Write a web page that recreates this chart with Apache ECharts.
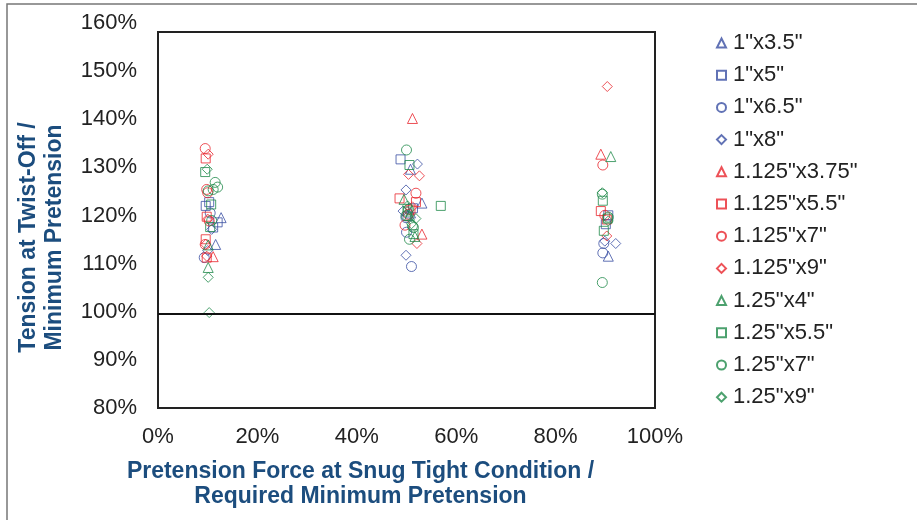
<!DOCTYPE html>
<html>
<head>
<meta charset="utf-8">
<script src="https://cdn.jsdelivr.net/npm/echarts@6/dist/echarts.min.js"></script>
<style>html,body{margin:0;padding:0;background:#fff;}#c{width:917px;height:520px;}</style>
</head>
<body>
<div id="c"></div>
<script>
// Series names (legend order)
const seriesNames = ['1"x3.5"', '1"x5"', '1"x6.5"', '1"x8"', '1.125"x3.75"', '1.125"x5.5"', '1.125"x7"', '1.125"x9"', '1.25"x4"', '1.25"x5.5"', '1.25"x7"', '1.25"x9"'];
// x: pretension at snug tight / required min (%), y: tension at twist-off / min pretension (%)
const d_1x35 = [[12.7,120.5],[11.6,114.8],[50.8,130.8],[53.1,123.6],[50.8,121.5],[90.6,112.3]];
const d_1x5 = [[9.6,123.0],[10.3,123.8],[12.0,119.5],[11.1,118.4],[48.8,132.9],[51.3,122.5],[50.2,120.8],[90.6,121.0],[90.1,119.1]];
const d_1x65 = [[9.3,112.0],[10.5,121.5],[50.0,117.4],[51.0,110.1],[49.9,120.5],[89.7,115.0],[89.5,113.0]];
const d_1x8 = [[10.8,118.0],[10.0,113.5],[52.2,131.9],[49.9,126.4],[49.9,112.5],[49.3,121.9],[92.1,115.0],[89.9,115.5]];
const d_1125x375 = [[11.1,112.2],[51.2,141.6],[53.1,117.0],[89.1,134.0]];
const d_1125x55 = [[9.6,133.1],[9.8,120.7],[9.6,115.9],[9.8,112.0],[48.6,124.6],[51.9,123.8],[50.8,122.2],[89.1,121.9],[90.3,120.1]];
const d_1125x7 = [[9.5,135.2],[9.8,126.5],[10.0,125.8],[10.3,119.8],[9.5,114.8],[51.9,125.7],[49.7,118.9],[50.4,121.2],[89.5,131.7],[89.9,121.0]];
const d_1125x9 = [[10.1,134.0],[9.6,114.8],[9.8,112.3],[10.0,120.2],[50.4,129.7],[52.6,129.4],[52.1,115.0],[51.2,122.8],[90.4,148.4],[90.3,116.6]];
const d_125x4 = [[10.1,114.7],[10.1,109.9],[49.5,124.4],[50.6,121.0],[51.7,116.5],[91.1,133.5]];
const d_125x55 = [[9.5,130.2],[10.7,123.3],[10.5,118.5],[50.6,131.7],[56.9,123.0],[50.2,121.8],[51.4,117.0],[89.5,124.1],[89.7,117.7],[90.5,120.3]];
const d_125x7 = [[11.5,128.0],[12.0,127.0],[11.1,126.5],[10.1,126.2],[10.8,119.9],[50.0,134.9],[51.4,118.4],[50.6,115.9],[49.9,120.9],[50.4,122.3],[51.2,118.7],[89.4,125.5],[89.4,106.7],[90.6,120.6]];
const d_125x9 = [[9.9,130.8],[10.1,107.8],[10.3,100.3],[51.9,120.3],[50.2,123.0],[51.0,119.2],[89.4,125.8],[90.6,119.8]];
const seriesData = [d_1x35, d_1x5, d_1x65, d_1x8, d_1125x375, d_1125x55, d_1125x7, d_1125x9, d_125x4, d_125x55, d_125x7, d_125x9];
// Axis ticks
const xTicks = [0, 20, 40, 60, 80, 100];
const yTicks = [80, 90, 100, 110, 120, 130, 140, 150, 160];
const referenceLine = 100;

const BLUE = '#3a4fa2', RED = '#e8262d', GREEN = '#1f8a4a';
const colors = [BLUE, BLUE, BLUE, BLUE, RED, RED, RED, RED, GREEN, GREEN, GREEN, GREEN];
const shapes = ['triangle', 'rect', 'circle', 'diamond'];
const sizes = {triangle: 10, rect: 9, circle: 10, diamond: 10};
const FONT = '"Liberation Sans", Arial, sans-serif';
const TITLE_COLOR = '#1c4d7e';

const series = seriesNames.map((name, i) => {
  const shape = shapes[i % 4];
  const s = {
    name: name,
    type: 'scatter',
    symbol: shape,
    symbolSize: sizes[shape],
    data: seriesData[i],
    itemStyle: {color: 'rgba(255,255,255,0)', borderColor: colors[i], borderWidth: 1},
    emphasis: {disabled: true}
  };
  if (i === 0) {
    s.markLine = {
      silent: true, symbol: 'none', animation: false,
      label: {show: false},
      lineStyle: {color: '#111', width: 2, type: 'solid'},
      data: [{yAxis: referenceLine}]
    };
  }
  return s;
});

const yMin = yTicks[0], yMax = yTicks[yTicks.length - 1];
const chart = echarts.init(document.getElementById('c'), null, {renderer: 'canvas'});
chart.setOption({
  animation: false,
  backgroundColor: '#fff',
  textStyle: {fontFamily: FONT},
  grid: [
    {left: 158, top: 32, right: 262, bottom: 112, show: true, borderColor: '#222', borderWidth: 2, backgroundColor: 'transparent'},
    // label-only grid: the source picture spaces its y tick labels slightly wider than the plot box
    {left: 158, top: 23, right: 262, bottom: 112, show: false}
  ],
  xAxis: [
    {
      type: 'value', min: xTicks[0], max: xTicks[xTicks.length - 1], interval: 20,
      axisLine: {show: false}, axisTick: {show: false}, splitLine: {show: false},
      axisLabel: {formatter: v => v + '%', fontSize: 22, color: '#222', margin: 18, fontFamily: FONT}
    },
    {gridIndex: 1, type: 'value', min: 0, max: 100, show: false}
  ],
  yAxis: [
    {
      type: 'value', min: yMin, max: yMax, interval: 10,
      axisLine: {show: false}, axisTick: {show: false}, splitLine: {show: false},
      axisLabel: {show: false}
    },
    {
      gridIndex: 1, type: 'value', min: yMin, max: yMax, interval: 10,
      axisLine: {show: false}, axisTick: {show: false}, splitLine: {show: false},
      axisLabel: {formatter: v => v + '%', fontSize: 22, color: '#222', margin: 21, fontFamily: FONT}
    }
  ],
  legend: {
    orient: 'vertical', left: 711, top: 27, itemGap: 10.2, itemWidth: 9, itemHeight: 9,
    selectedMode: false,
    textStyle: {fontSize: 22, color: '#222', fontFamily: FONT, padding: [0, 0, 0, 2]},
    data: seriesNames
  },
  graphic: [
    {type: 'polyline', silent: true, shape: {points: [[7, 520], [7, 4], [917, 4]]}, style: {stroke: '#777', lineWidth: 1.5, fill: null}},
    {type: 'text', silent: true, x: 29, y: 237.5, rotation: Math.PI / 2,
      style: {text: 'Tension at Twist-Off /', font: 'bold 23px ' + FONT, fill: TITLE_COLOR, textAlign: 'center', textVerticalAlign: 'middle'}},
    {type: 'text', silent: true, x: 55, y: 237.5, rotation: Math.PI / 2,
      style: {text: 'Minimum Pretension', font: 'bold 23px ' + FONT, fill: TITLE_COLOR, textAlign: 'center', textVerticalAlign: 'middle'}},
    {type: 'text', silent: true, x: 360.5, y: 471.7,
      style: {text: 'Pretension Force at Snug Tight Condition /', font: 'bold 23px ' + FONT, fill: TITLE_COLOR, textAlign: 'center', textVerticalAlign: 'middle'}},
    {type: 'text', silent: true, x: 360.5, y: 497,
      style: {text: 'Required Minimum Pretension', font: 'bold 23px ' + FONT, fill: TITLE_COLOR, textAlign: 'center', textVerticalAlign: 'middle'}}
  ],
  series: series
});
</script>
</body>
</html>
